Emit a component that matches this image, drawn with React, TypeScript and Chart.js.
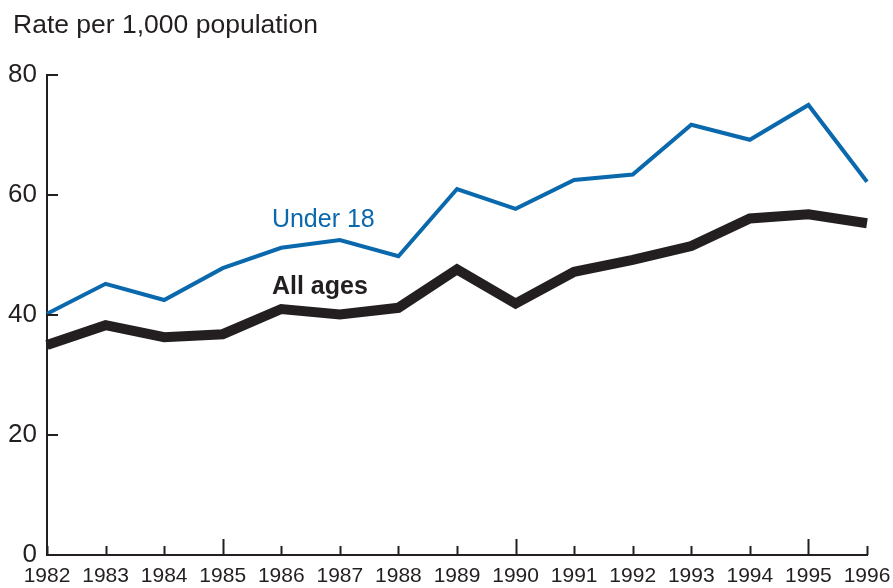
import React, { useEffect, useRef } from "react";
import { Chart, registerables } from "chart.js";

Chart.register(...registerables);

const years = ["1982","1983","1984","1985","1986","1987","1988","1989","1990","1991","1992","1993","1994","1995","1996"];
const under18 = [40.2, 45.2, 42.5, 47.8, 51.2, 52.5, 49.8, 61.0, 57.7, 62.5, 63.4, 71.7, 69.2, 75.0, 62.2];
const allAges = [35.0, 38.3, 36.3, 36.8, 41.0, 40.1, 41.2, 47.6, 41.9, 47.2, 49.2, 51.5, 56.1, 56.8, 55.3];
const yTicks = [0, 20, 40, 60, 80];
const titleText = "Rate per 1,000 population";
const seriesLabels = [
  { text: "Under 18", xIndex: 3.84, yValue: 54.7, color: "#0a68ad", bold: false },
  { text: "All ages", xIndex: 3.84, yValue: 43.5, color: "#231f20", bold: true },
];

const FONT = "'Liberation Sans', Arial, Helvetica, sans-serif";
const INK = "#231f20";

const decorPlugin = {
  id: "decor",
  afterDraw(chart: any) {
    const ctx = chart.ctx;
    const xs = chart.scales.x;
    const ys = chart.scales.y;
    const area = chart.chartArea;
    ctx.save();
    ctx.strokeStyle = INK;
    ctx.lineWidth = 2;
    years.forEach((yr, i) => {
      const px = Math.round(xs.getPixelForValue(i)) + 0.5;
      const len = Number(yr) % 5 === 0 ? 16 : 9;
      ctx.beginPath();
      ctx.moveTo(px, area.bottom);
      ctx.lineTo(px, area.bottom - len);
      ctx.stroke();
    });
    yTicks.forEach((v) => {
      const py = Math.round(ys.getPixelForValue(v));
      ctx.beginPath();
      ctx.moveTo(area.left, py);
      ctx.lineTo(area.left + 11, py);
      ctx.stroke();
    });
    ctx.fillStyle = INK;
    ctx.font = `26.5px ${FONT}`;
    ctx.textAlign = "left";
    ctx.textBaseline = "alphabetic";
    ctx.fillText(titleText, 13, 33);
    seriesLabels.forEach((l) => {
      ctx.fillStyle = l.color;
      ctx.font = `${l.bold ? "bold " : ""}25px ${FONT}`;
      ctx.fillText(l.text, xs.getPixelForValue(l.xIndex), ys.getPixelForValue(l.yValue));
    });
    ctx.restore();
  },
};

export default function App() {
  const ref = useRef<HTMLCanvasElement | null>(null);
  useEffect(() => {
    document.body.style.margin = "0";
    const canvas = ref.current!;
    const chart = new Chart(canvas, {
      type: "line",
      data: {
        labels: years,
        datasets: [
          {
            label: "Under 18",
            data: under18,
            borderColor: "#0a68ad",
            borderWidth: 4,
            pointRadius: 0,
            tension: 0,
            borderJoinStyle: "miter",
            borderCapStyle: "butt",
          },
          {
            label: "All ages",
            data: allAges,
            borderColor: INK,
            borderWidth: 10,
            pointRadius: 0,
            tension: 0,
            borderJoinStyle: "miter",
            borderCapStyle: "butt",
          },
        ],
      },
      options: {
        animation: false,
        responsive: false,
        maintainAspectRatio: false,
        layout: { padding: { top: 75, right: 26, left: 0, bottom: 0 } },
        plugins: { legend: { display: false }, tooltip: { enabled: false }, title: { display: false } },
        scales: {
          x: {
            type: "category",
            offset: false,
            grid: { display: false, drawTicks: false },
            border: { display: true, color: INK, width: 2 },
            ticks: {
              color: INK,
              font: { family: FONT, size: 21 },
              padding: 9,
              maxRotation: 0,
              autoSkip: false,
            },
            afterFit: (s: any) => { s.height = 33; s.paddingLeft = 0; s.paddingRight = 0; },
          },
          y: {
            min: 0,
            max: 80,
            grid: { display: false, drawTicks: false },
            border: { display: true, color: INK, width: 2 },
            afterBuildTicks: (s: any) => { s.ticks = yTicks.map((v) => ({ value: v })); },
            ticks: {
              color: INK,
              font: { family: FONT, size: 26 },
              padding: 10,
            },
            afterFit: (s: any) => { s.width = 47; s.paddingTop = 0; s.paddingBottom = 0; },
          },
        },
      },
      plugins: [decorPlugin],
    });
    return () => chart.destroy();
  }, []);
  return <canvas ref={ref} width={893} height={588} style={{ display: "block" }} />;
}
